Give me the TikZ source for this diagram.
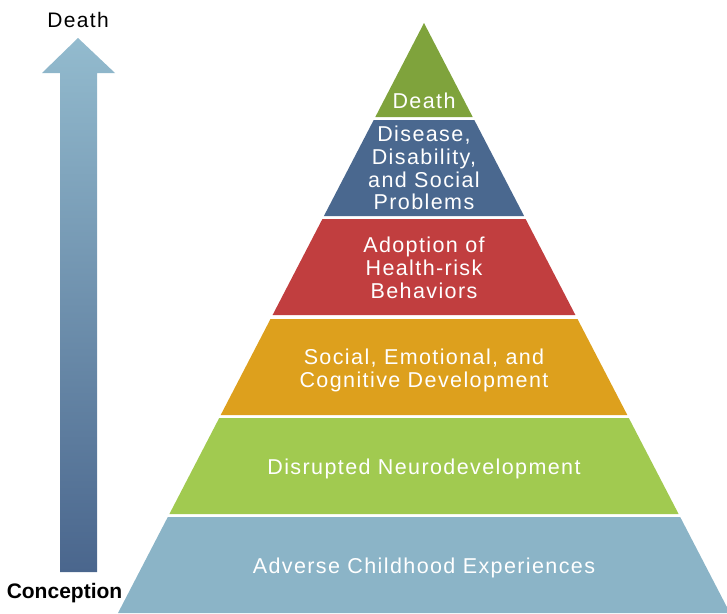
\documentclass[tikz,border=0pt]{standalone}
\usepackage{fontspec}
\setmainfont{Liberation Sans}[LetterSpace=6.5]
\newfontfamily\plainsans{Liberation Sans}
\definecolor{cDeath}{HTML}{7FA33C}
\definecolor{cDisease}{HTML}{4A688F}
\definecolor{cAdopt}{HTML}{C13E3F}
\definecolor{cSocial}{HTML}{DDA01D}
\definecolor{cNeuro}{HTML}{A1CA50}
\definecolor{cACE}{HTML}{8BB4C7}
\definecolor{cArrowTop}{HTML}{93BBCE}
\definecolor{cArrowBot}{HTML}{4A668D}
\begin{document}
\begin{tikzpicture}[x=1pt,y=-1pt,
  lbl/.style={text=white,align=center,inner sep=0pt,font=\fontsize{21.5}{22.8}\selectfont},
  side/.style={text=black,inner sep=0pt,font=\fontsize{21}{22.8}\selectfont}]
\useasboundingbox (0,0) rectangle (727,613);
\clip (0,0) rectangle (727,613);
% arrow
\shade[top color=cArrowTop,bottom color=cArrowBot]
  (78,38) -- (115,73) -- (97,73) -- (97,572) -- (60,572) -- (60,73) -- (42,73) -- cycle;
% pyramid bands
\fill[cDeath]   (424,23) -- (472.7,117) -- (375.3,117) -- cycle;
\fill[cDisease] (373.7,120) -- (474.3,120) -- (524.1,216) -- (323.9,216) -- cycle;
\fill[cAdopt]   (322.4,219) -- (525.6,219) -- (575.4,315) -- (272.6,315) -- cycle;
\fill[cSocial]  (270.5,319) -- (577.5,319) -- (627.3,415) -- (220.7,415) -- cycle;
\fill[cNeuro]   (219.2,418) -- (628.8,418) -- (678.6,514) -- (169.4,514) -- cycle;
\fill[cACE]     (167.8,517) -- (680.2,517) -- (730,613) -- (118,613) -- cycle;
% labels
\node[lbl,anchor=base] (death) at (424,108) {Death};
\node[lbl] (disease) at (424,168) {Disease,\\Disability,\\and Social\\Problems};
\node[lbl] (adopt) at (424,268) {Adoption of\\Health-risk\\Behaviors};
\node[lbl] (social) at (424,370.5) {Social, Emotional, and\\Cognitive Development};
\node[lbl,anchor=base] (neuro) at (424,474) {Disrupted Neurodevelopment};
\node[lbl,anchor=base] (ace) at (424,573) {Adverse Childhood Experiences};
\node[side,anchor=base] (top) at (78,27) {Death};
\node[side,anchor=base,font=\plainsans\bfseries\fontsize{21}{22}\selectfont] (bottom) at (64.5,598) {Conception};
\end{tikzpicture}
\end{document}
